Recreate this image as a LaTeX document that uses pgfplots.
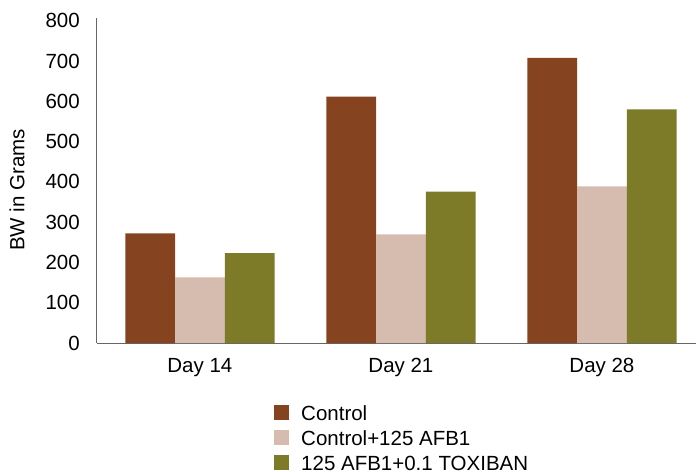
\documentclass[border=0pt]{standalone}
\usepackage{fontspec}
\setmainfont{Liberation Sans}
\usepackage{pgfplots}
\pgfplotsset{compat=1.18}
\definecolor{ctrl}{HTML}{85441F}
\definecolor{afb}{HTML}{D6BCAF}
\definecolor{toxi}{HTML}{7E7B28}
\newcommand{\lblfont}{\fontsize{20.5bp}{24bp}\selectfont}
\begin{document}
\lblfont
\begin{tikzpicture}
\useasboundingbox (-97bp,-129bp) rectangle (599bp,343bp);
\begin{axis}[
    at={(0,0)}, anchor=south west,
    scale only axis, width=599bp, height=325bp,
    xmin=-0.512, xmax=2.468, ymin=0, ymax=807,
    axis x line*=bottom, axis y line*=left,
    axis line style={draw=black!60, line width=1bp},
    ytick={0,100,...,800},
    xtick={0,1,2}, xticklabels={Day 14, Day 21, Day 28},
    major tick length=0pt,
    ybar=0pt, bar width=0.2475,
    /pgf/number format/assume math mode=true,
    tick label style={font=\lblfont, inner sep=0pt},
    yticklabel style={xshift=-17bp},
    xticklabel style={yshift=-15bp},
    ylabel={BW in Grams},
    every axis y label/.style={at={(axis description cs:-0.1336,0.471)}, rotate=90, anchor=center, font=\lblfont},
    legend cell align=left,
    legend image code/.code={\fill[#1] (0bp,-5bp) rectangle (15bp,10bp);},
    legend style={at={(axis description cs:0.2955,-0.1908)}, anchor=north west,
        draw=none, fill=none, inner sep=0pt, row sep=5.5bp,
        nodes={inner sep=0pt, text height=15bp, text depth=4bp, font=\lblfont},
        /tikz/every odd column/.append style={column sep=12bp}},
]
\addplot[fill=ctrl, draw=none] coordinates {(0,272) (1,612) (2,708)};
\addlegendentry{Control}
\addplot[fill=afb, draw=none] coordinates {(0,163) (1,270) (2,389)};
\addlegendentry{Control+125 AFB1}
\addplot[fill=toxi, draw=none] coordinates {(0,223) (1,376) (2,580)};
\addlegendentry{125 AFB1+0.1 TOXIBAN}
\end{axis}
\end{tikzpicture}
\end{document}
